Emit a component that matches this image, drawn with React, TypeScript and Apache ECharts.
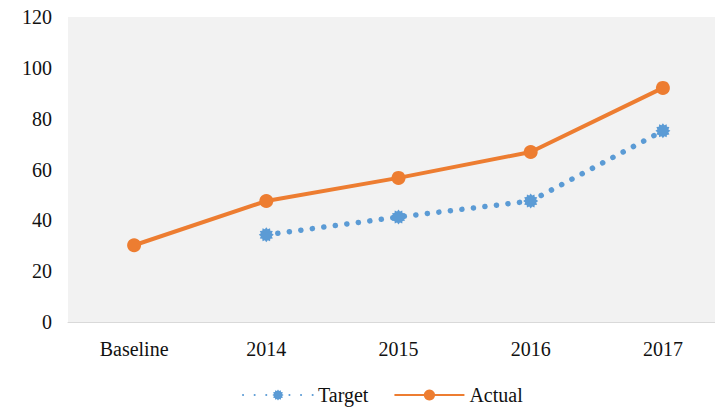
import React, { useEffect, useRef } from "react";
import * as echarts from "echarts";

const categories = ["Baseline", "2014", "2015", "2016", "2017"];
const targetValues: (number | null)[] = [null, 34.3, 41.3, 47.6, 75.2];
const actualValues = [30.2, 47.6, 56.7, 66.9, 92.1];
const yTicks = { min: 0, max: 120, interval: 20 };

function starPath(points: number, rOuter: number, rInner: number) {
  let d = "";
  for (let i = 0; i < points * 2; i++) {
    const r = i % 2 === 0 ? rOuter : rInner;
    const a = (Math.PI * i) / points - Math.PI / 2;
    const x = 50 + r * Math.cos(a);
    const y = 50 + r * Math.sin(a);
    d += (i === 0 ? "M" : "L") + x.toFixed(2) + " " + y.toFixed(2);
  }
  return "path://" + d + "Z";
}

export default function App() {
  const ref = useRef<HTMLDivElement>(null);
  useEffect(() => {
    if (!ref.current) return;
    const chart = echarts.init(ref.current, undefined, { renderer: "svg" });
    const font = "Liberation Serif";
    chart.setOption({
      animation: false,
      textStyle: { fontFamily: font },
      grid: { left: 68, top: 17, width: 661, height: 305, backgroundColor: "#f2f2f2", show: true, borderWidth: 0 },
      legend: {
        top: 380,
        left: 237,
        itemWidth: 70,
        itemHeight: 14,
        itemGap: 25,
        textStyle: { fontFamily: font, fontSize: 20, color: "#111" },
        data: ["Target", "Actual"],
      },
      xAxis: {
        type: "category",
        data: categories,
        axisLine: { lineStyle: { color: "#d9d9d9", width: 1 } },
        axisTick: { show: false },
        axisLabel: { fontFamily: font, fontSize: 20, color: "#111", margin: 17 },
      },
      yAxis: {
        type: "value",
        min: yTicks.min,
        max: yTicks.max,
        interval: yTicks.interval,
        splitLine: { show: false },
        axisLine: { show: false },
        axisTick: { show: false },
        axisLabel: { fontFamily: font, fontSize: 20, color: "#111", margin: 16 },
      },
      series: [
        {
          name: "Target",
          type: "line",
          data: targetValues,
          color: "#5b9bd5",
          symbol: starPath(12, 50, 38),
          symbolSize: 15,
          lineStyle: { width: 5.5, type: [0.1, 11.5], cap: "round", color: "#5b9bd5" },
          itemStyle: { color: "#5b9bd5" },
        },
        {
          name: "Actual",
          type: "line",
          data: actualValues,
          color: "#ed7d31",
          symbol: "circle",
          symbolSize: 14,
          lineStyle: { width: 4, color: "#ed7d31" },
          itemStyle: { color: "#ed7d31" },
        },
      ],
    });
    return () => chart.dispose();
  }, []);
  return (
    <div style={{ position: "fixed", left: 0, top: 0, width: 715, height: 409, overflow: "hidden", background: "#fff" }}>
      <div ref={ref} style={{ width: 740, height: 409 }} />
    </div>
  );
}
